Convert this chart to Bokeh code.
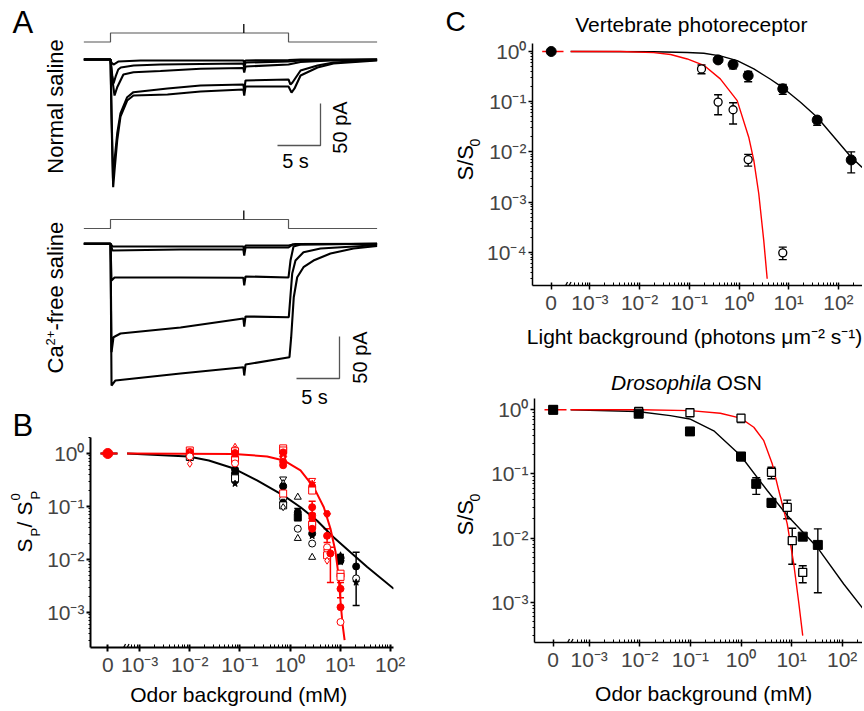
import numpy as np
from bokeh.plotting import figure
from bokeh.models import ColumnDataSource, Label, FixedTicker, Whisker, TeeHead, Range1d, Arrow
from bokeh.layouts import row, column
from bokeh.embed import file_html
from bokeh.resources import INLINE

FONT = "Liberation Sans"
RED = "#ff0000"

# ---------------- Panel A data (time in s, current in pA) ----------------
stim_t = [-3.1, 0.0, 0.0, 20.7, 20.7, 31.0]
stim_level = [0, 0, 1, 1, 0, 0]
mark_t = 15.5

ns_a_t = [-3.1, 0.0, 0.1, 0.35, 0.9, 3.5, 15.45, 15.55, 15.7, 20.7, 22.1, 31.0]
ns_a_i = [0, 0, -3.6, -6.0, -2.4, -1.2, -1.2, -3.6, -1.2, -0.6, 0, 0]
ns_b_t = [-3.1, 0.0, 0.2, 0.35, 0.6, 0.9, 1.2, 2.7, 5.8, 10.5, 15.45, 15.55, 15.7, 20.7, 22.1, 31.0]
ns_b_i = [0, 0, -19.0, -28.6, -20.2, -11.9, -9.5, -7.1, -6.0, -5.4, -4.8, -9.5, -3.6, -2.4, -1.2, 0]
ns_c_t = [-3.1, 0.0, 0.23, 0.47, 0.78, 1.16, 1.5, 2.67, 5.81, 10.47, 15.45, 15.55, 15.7, 20.7, 22.1, 25.6, 31.0]
ns_c_i = [0, 0, -25.0, -42.9, -33.0, -25.0, -17.9, -15.1, -13.7, -11.1, -10.1, -15.5, -8.3, -6.0, -3.0, -1.2, 0]
ns_d_t = [-3.1, 0.0, 0.12, 0.29, 0.47, 0.78, 1.16, 1.94, 2.67, 6.63, 10.47, 15.45, 15.55, 15.7, 20.7, 20.93, 21.16, 22.1, 24.07, 25.93, 31.0]
ns_d_i = [0, 0, -60.7, -141.7, -120.2, -88.1, -64.3, -44.9, -38.9, -34.5, -31.0, -29.8, -36.9, -25.0, -23.8, -29.8, -27.4, -13.1, -7.1, -3.6, -0.6]
ns_e_t = [-3.1, 0.0, 0.12, 0.31, 0.47, 0.78, 1.16, 1.94, 2.67, 6.63, 10.47, 15.45, 15.55, 15.7, 20.7, 21.05, 21.4, 22.1, 24.07, 25.93, 31.0]
ns_e_i = [0, 0, -72.6, -152.0, -132.1, -96.4, -67.9, -48.8, -42.9, -41.7, -38.1, -35.7, -42.9, -32.1, -32.1, -39.3, -34.5, -19.0, -9.5, -4.8, -1.2]

cf_a_t = [-3.1, 0.0, 0.23, 15.45, 15.55, 15.7, 20.7, 21.5, 31.0]
cf_a_i = [0, 0, -3.2, -3.2, -8.0, -2.0, -2.0, -0.2, 0]
cf_b_t = [-3.1, 0.0, 0.23, 8.1, 15.45, 15.55, 15.7, 20.7, 21.2, 31.0]
cf_b_i = [0, 0, -8.0, -6.8, -6.8, -13.9, -4.4, -4.4, -0.8, 0]
cf_c_t = [-3.1, 0.0, 0.12, 0.47, 8.1, 15.45, 15.55, 15.7, 20.7, 20.93, 21.28, 22.1, 31.0]
cf_c_i = [0, 0, -43.7, -40.1, -40.1, -40.5, -49.6, -38.9, -40.1, -19.9, -3.2, -0.8, 0]
cf_d_t = [-3.1, 0.0, 0.12, 0.35, 1.16, 8.14, 15.45, 15.55, 15.7, 20.73, 21.13, 21.51, 22.44, 24.42, 30.23, 31.0]
cf_d_i = [0, 0, -129.0, -111.2, -106.8, -99.6, -88.9, -98.5, -86.5, -87.4, -35.4, -19.9, -10.0, -5.6, -2.0, -1.4]
cf_e_t = [-3.1, 0.0, 0.12, 0.58, 8.14, 15.45, 15.55, 15.7, 20.81, 21.01, 21.31, 21.71, 22.44, 23.6, 25.58, 28.26, 31.0]
cf_e_i = [0, 0, -168.7, -162.7, -154.4, -146.9, -156.8, -143.7, -135.0, -111.2, -63.6, -39.8, -27.9, -19.9, -11.5, -5.6, -2.6]

scale_s = 5.0
scale_pa = 50.0

# ---------------- Panel B data (odor mM, S_P/S_P0) ----------------
b_black_conc = [0, 0.01, 0.01, 0.08, 0.08, 0.08, 0.08, 0.08, 0.08,
                0.73, 0.73, 0.73, 0.73, 0.73, 0.73, 0.73, 0.73,
                1.43, 1.43, 1.43, 1.43, 1.43,
                2.77, 2.77, 2.77, 2.77, 2.77, 2.77,
                10.2, 10.2, 10.2, 10.2, 10.2, 20.9, 20.9, 20.9]
b_black_resp = [1.0, 0.92, 0.86, 0.50, 0.46, 0.42, 0.39, 0.34, 0.27,
                0.33, 0.27, 0.24, 0.22, 0.14, 0.12, 0.105, 0.097,
                0.15, 0.078, 0.063, 0.038, 0.025,
                0.045, 0.038, 0.031, 0.028, 0.020, 0.011,
                0.012, 0.011, 0.0105, 0.0095, 0.009, 0.0074, 0.0044, 0.0037]
b_black_marker = ["circle", "circle", "square", "circle", "triangle", "circle", "hex", "square", "star",
                  "inverted_triangle", "triangle", "circle", "star", "circle", "hex", "square", "diamond",
                  "triangle", "circle", "square", "circle", "triangle",
                  "circle", "star", "circle", "star", "circle", "triangle",
                  "star", "circle", "hex", "circle", "star", "circle", "circle", "star"]
b_black_open = [0, 0, 1, 0, 0, 0, 0, 1, 0,
                1, 1, 0, 0, 1, 0, 1, 1,
                1, 0, 0, 1, 1,
                0, 0, 0, 0, 1, 1,
                0, 0, 0, 0, 0, 0, 1, 0]
b_black_err_conc = [0.08, 1.43, 20.9]
b_black_err_lo = [0.30, 0.054, 0.00135]
b_black_err_hi = [0.50, 0.092, 0.0137]

b_red_conc = [0, 0.01, 0.01, 0.01, 0.01, 0.01, 0.01,
              0.08, 0.08, 0.08, 0.08, 0.08, 0.08, 0.08, 0.08, 0.08,
              0.73, 0.73, 0.73, 0.73, 0.73, 0.73, 0.73, 0.73, 0.73,
              2.77, 2.77, 2.77, 2.77, 2.77, 2.77, 2.77, 2.77, 2.77, 2.77,
              5.5, 5.5, 5.5, 5.5, 5.5, 5.5, 6.4,
              10.2, 10.2, 10.2, 10.2, 10.2]
b_red_resp = [1.0, 1.14, 1.07, 1.0, 0.95, 0.88, 0.64,
              1.31, 1.19, 1.10, 1.02, 0.95, 0.88, 0.80, 0.74, 0.65,
              1.25, 1.14, 1.05, 0.95, 0.88, 0.80, 0.70, 0.60, 0.176,
              0.31, 0.27, 0.24, 0.20, 0.097, 0.068, 0.060, 0.050, 0.045, 0.038,
              0.073, 0.028, 0.017, 0.014, 0.012, 0.0095, 0.013,
              0.0054, 0.0047, 0.0028, 0.00126, 0.00066]
b_red_marker = ["circle", "square", "circle", "triangle", "hex", "circle", "diamond",
                "triangle", "diamond", "square", "circle", "star", "hex", "circle", "square", "circle",
                "square", "square", "circle", "star", "hex", "diamond", "circle", "circle", "square",
                "inverted_triangle", "star", "circle", "square", "circle", "circle", "hex", "circle", "square", "circle",
                "hex", "circle", "circle", "inverted_triangle", "square", "diamond", "circle",
                "square", "square", "circle", "circle", "circle"]
b_red_open = [0, 1, 0, 1, 0, 1, 1,
              1, 1, 1, 0, 0, 0, 0, 1, 1,
              1, 1, 0, 0, 0, 1, 0, 0, 1,
              1, 0, 0, 1, 0, 0, 0, 0, 1, 0,
              0, 0, 1, 1, 1, 1, 0,
              1, 1, 0, 0, 1]
b_red_err_conc = [2.77, 5.5, 6.4, 10.2]
b_red_err_lo = [0.074, 0.021, 0.0037, 0.0019]
b_red_err_hi = [0.126, 0.038, 0.017, 0.0037]

b_fit_black_c = [5.6e-4, 0.0094, 0.024, 0.076, 0.22, 0.75, 1.62, 3.49, 7.49, 16.1, 34.8, 118]
b_fit_black_v = [1.0, 0.88, 0.74, 0.52, 0.31, 0.16, 0.097, 0.054, 0.026, 0.0137, 0.0072, 0.0028]
b_fit_red_c = [5.6e-4, 0.076, 0.35, 0.75, 1.62, 2.99, 4.73, 6.43, 8.1, 9.3, 10.4, 11.2, 12.3]
b_fit_red_v = [1.0, 0.98, 0.88, 0.74, 0.48, 0.23, 0.097, 0.038, 0.014, 0.005, 0.0013, 0.0006, 0.0003]
b_fit_zero = 1.0

# ---------------- Panel C (top): vertebrate photoreceptor ----------------
ct_fill_light = [0, 0.38, 0.76, 1.53, 7.6, 37.4, 181]
ct_fill_resp = [1.0, 0.68, 0.55, 0.33, 0.18, 0.043, 0.0069]
ct_fill_lo = [1.0, 0.63, 0.45, 0.25, 0.14, 0.034, 0.0038]
ct_fill_hi = [1.0, 0.73, 0.64, 0.40, 0.22, 0.050, 0.010]
ct_open_light = [0.176, 0.38, 0.76, 1.53, 7.6]
ct_open_resp = [0.45, 0.098, 0.069, 0.007, 9.7e-5]
ct_open_lo = [0.36, 0.055, 0.036, 0.0052, 7.1e-5]
ct_open_hi = [0.54, 0.137, 0.095, 0.0089, 1.26e-4]
ct_fit_black_c = [4.1e-4, 0.0193, 0.091, 0.196, 0.42, 0.92, 1.99, 4.3, 7.6, 17.3, 37.4, 181, 301]
ct_fit_black_v = [1.0, 0.99, 0.955, 0.92, 0.82, 0.66, 0.45, 0.28, 0.19, 0.097, 0.049, 0.0078, 0.0049]
ct_fit_red_c = [4.1e-4, 0.0041, 0.0193, 0.042, 0.091, 0.196, 0.42, 0.92, 1.57, 1.99, 2.5, 3.15, 3.69]
ct_fit_red_v = [1.0, 1.0, 0.95, 0.87, 0.71, 0.53, 0.285, 0.105, 0.0196, 0.0067, 0.00146, 1.7e-4, 2.95e-5]

# ---------------- Panel C (bottom): Drosophila OSN ----------------
cb_fill_conc = [0, 0.0095, 0.098, 1.0, 2.0, 4.0, 16.6, 33.0]
cb_fill_resp = [1.0, 0.87, 0.46, 0.187, 0.070, 0.0354, 0.0105, 0.0078]
cb_fill_lo = [1.0, 0.84, 0.44, 0.16, 0.048, 0.030, 0.0098, 0.0014]
cb_fill_hi = [1.0, 0.90, 0.48, 0.20, 0.087, 0.040, 0.0112, 0.0139]
cb_open_conc = [0, 0.0095, 0.098, 1.0, 4.0, 8.2, 10.3, 16.6]
cb_open_resp = [1.0, 0.94, 0.90, 0.74, 0.106, 0.030, 0.0091, 0.0029]
cb_open_lo = [1.0, 0.92, 0.86, 0.63, 0.084, 0.020, 0.0039, 0.0020]
cb_open_hi = [1.0, 0.96, 0.94, 0.84, 0.127, 0.039, 0.0142, 0.0037]
cb_fit_black_c = [4.3e-4, 0.0089, 0.040, 0.097, 0.29, 0.98, 3.3, 8.2, 32, 108, 275]
cb_fit_black_v = [1.0, 0.94, 0.81, 0.72, 0.47, 0.194, 0.055, 0.0225, 0.0072, 0.0019, 7.4e-4]
cb_fit_red_c = [4.3e-4, 0.01, 0.1, 0.39, 0.98, 1.79, 2.82, 4.14, 5.58, 8.2, 11.0, 13.9, 16.6]
cb_fit_red_v = [1.0, 1.0, 0.97, 0.885, 0.74, 0.535, 0.33, 0.144, 0.055, 0.0166, 0.004, 9.6e-4, 3.0e-4]

decade_labels = {-4: "10\u207b\u2074", -3: "10\u207b\u00b3", -2: "10\u207b\u00b2", -1: "10\u207b\u00b9",
                 0: "10\u2070", 1: "10\u00b9", 2: "10\u00b2"}

# ---------------- helpers ----------------
BASE_FIX = 0.37  # measured offset of the rendered alphabetic baseline, in em


def ident(v):
    return v


def lab(p, xpx, ypx, text, size, fx=ident, fy=ident, align="left", rot=False, style="normal"):
    """Place a label by picture-pixel position of its baseline (fx/fy map pixels to data)."""
    if rot:
        xpx = xpx - BASE_FIX * size
    else:
        ypx = ypx - BASE_FIX * size
    p.add_layout(Label(x=fx(xpx), y=fy(ypx), text=text, text_font=FONT, text_font_size=f"{size}px",
                       text_align=align, text_baseline="alphabetic", angle=(np.pi / 2 if rot else 0.0),
                       text_font_style=style, text_color="black"))


def blank_fig(w, h, xr, yr):
    p = figure(width=w, height=h, x_range=Range1d(*xr), y_range=Range1d(*yr),
               output_backend="svg", toolbar_location=None,
               x_axis_location=None, y_axis_location=None, min_border=0)
    p.xgrid.visible = False
    p.ygrid.visible = False
    p.outline_line_color = None
    p.frame_align = False
    return p


def strip(x0, x1, y0, y1):
    # text-only panel whose coordinates are picture pixels (y grows downward)
    return blank_fig(int(x1 - x0), int(y1 - y0), (x0, x1), (y1, y0))


def log_fig(w, h, xr, yr, borders, xdec, ydec, zero_pos, xminor_start, lw):
    l, r, t, b = borders
    p = figure(width=w, height=h, x_axis_type="log", y_axis_type="log",
               x_range=Range1d(*xr), y_range=Range1d(*yr),
               output_backend="svg", toolbar_location=None,
               min_border_left=l, min_border_right=r, min_border_top=t, min_border_bottom=b)
    p.frame_align = False
    p.xgrid.visible = False
    p.ygrid.visible = False
    p.outline_line_color = None
    xt = [zero_pos] + [10.0 ** d for d in xdec]
    xm = [k * 10.0 ** d for d in range(-5, 3) for k in range(2, 10)
          if xminor_start <= k * 10.0 ** d <= xr[1]]
    p.xaxis.ticker = FixedTicker(ticks=xt, minor_ticks=xm)
    ov = {zero_pos: "0"}
    for d in xdec:
        ov[10.0 ** d] = decade_labels[d]
    p.xaxis.major_label_overrides = ov
    yt = [10.0 ** d for d in ydec]
    ym = [k * 10.0 ** d for d in range(-6, 1) for k in range(2, 10)
          if yr[0] <= k * 10.0 ** d <= yr[1]]
    p.yaxis.ticker = FixedTicker(ticks=yt, minor_ticks=ym)
    p.yaxis.major_label_overrides = {10.0 ** d: decade_labels[d] for d in ydec}
    p.axis.major_label_text_font = FONT
    p.axis.major_label_text_font_size = "21px"
    p.axis.axis_line_width = lw
    p.axis.major_tick_line_width = lw
    p.axis.minor_tick_line_width = 1
    p.xaxis.major_tick_out = 4
    p.xaxis.major_tick_in = 3
    p.xaxis.minor_tick_in = 3
    p.xaxis.minor_tick_out = 0
    p.xaxis.major_label_standoff = 1
    p.yaxis.major_tick_out = 4
    p.yaxis.major_tick_in = 0
    p.yaxis.minor_tick_out = 2
    p.yaxis.minor_tick_in = 0
    p.yaxis.major_label_standoff = 2
    return p


def break_marks(p, xfun, yfun, x0, y0):
    for dx in (0.0, 3.5):
        p.add_layout(Arrow(end=None, x_start=xfun(x0 + dx), y_start=yfun(y0 + 3.5),
                           x_end=xfun(x0 + dx + 3.5), y_end=yfun(y0 - 3.5),
                           line_color="black", line_width=1.3))


def whiskers(p, x, lo, hi, color, size, lw):
    src = ColumnDataSource(dict(x=x, lo=lo, hi=hi))
    w = Whisker(source=src, base="x", lower="lo", upper="hi", dimension="height",
                line_color=color, line_width=lw,
                upper_head=TeeHead(size=size, line_color=color, line_width=lw),
                lower_head=TeeHead(size=size, line_color=color, line_width=lw))
    p.add_layout(w)


def zmap(conc, zero_pos):
    return [zero_pos if c == 0 else c for c in conc]


# ---------------- Panel A ----------------
PX_PER_S = 8.6
PX_PER_PA = 0.84
STIM_PX = 9.0


def a_t(px):
    return (px - 110.0) / PX_PER_S


def a1_i(py):
    return (59.0 - py) / PX_PER_PA


def a2_i(py):
    return (243.3 - py) / PX_PER_PA


def draw_traces(p, traces, bar_x, bar_y, ifun):
    for t, i in traces:
        p.line(t, i, line_color="black", line_width=2.1)
    x0 = a_t(bar_x)
    y0 = ifun(bar_y)
    p.line([x0, x0 + scale_s, x0 + scale_s], [y0, y0, y0 + scale_pa], line_color="#555555", line_width=1.3)


pa1 = blank_fig(420, 200, (a_t(0), a_t(420)), (a1_i(200), a1_i(0)))
pa1.extra_y_ranges = {"stim": Range1d((41.5 - 200) / STIM_PX, (41.5 - 0) / STIM_PX)}
pa1.line(stim_t, stim_level, y_range_name="stim", line_color="#555555", line_width=1.2)
pa1.segment(x0=[mark_t], y0=[1], x1=[mark_t], y1=[2], y_range_name="stim", line_color="black", line_width=1.3)
draw_traces(pa1, [(ns_a_t, ns_a_i), (ns_b_t, ns_b_i), (ns_c_t, ns_c_i), (ns_d_t, ns_d_i), (ns_e_t, ns_e_i)],
            277, 145, a1_i)
lab(pa1, 12, 33, "A", 31, a_t, a1_i)
lab(pa1, 63, 106, "Normal saline", 22, a_t, a1_i, align="center", rot=True)
lab(pa1, 295, 168, "5 s", 20, a_t, a1_i, align="center")
lab(pa1, 347, 127, "50 pA", 20, a_t, a1_i, align="center", rot=True)

pa2 = blank_fig(420, 208, (a_t(0), a_t(420)), (a2_i(408), a2_i(200)))
pa2.extra_y_ranges = {"stim": Range1d((228 - 408) / STIM_PX, (228 - 200) / STIM_PX)}
pa2.line(stim_t, stim_level, y_range_name="stim", line_color="#555555", line_width=1.2)
pa2.segment(x0=[mark_t], y0=[1], x1=[mark_t], y1=[2], y_range_name="stim", line_color="black", line_width=1.3)
draw_traces(pa2, [(cf_a_t, cf_a_i), (cf_b_t, cf_b_i), (cf_c_t, cf_c_i), (cf_d_t, cf_d_i), (cf_e_t, cf_e_i)],
            296, 378, a2_i)
lab(pa2, 63, 373, "Ca", 22, a_t, a2_i, rot=True)
lab(pa2, 55, 345, "2+", 13, a_t, a2_i, rot=True)
lab(pa2, 63, 330, "-free saline", 22, a_t, a2_i, rot=True)
lab(pa2, 314, 404, "5 s", 20, a_t, a2_i, align="center")
lab(pa2, 367, 357, "50 pA", 20, a_t, a2_i, align="center", rot=True)


# ---------------- Panel B ----------------
def bx(px):
    return 10 ** ((px - 289.5) / 50.1)


def by(py):
    return 10 ** ((453.0 - py) / 53.0)


ZERO_B = bx(107.3)
pb = log_fig(378, 274, (bx(90), bx(393)), (by(647), by(437)), (48, 27, 29, 35),
             [-3, -2, -1, 0, 1, 2], [-3, -2, -1, 0], ZERO_B, bx(131), 2)
break_marks(pb, bx, by, 121.5, 647)
pb.line([bx(100), bx(117)], [b_fit_zero, b_fit_zero], line_color="black", line_width=2)
pb.line(b_fit_black_c, b_fit_black_v, line_color="black", line_width=2)
whiskers(pb, b_black_err_conc, b_black_err_lo, b_black_err_hi, "black", 7, 1.5)
src_bk = ColumnDataSource(dict(x=zmap(b_black_conc, ZERO_B), y=b_black_resp, m=b_black_marker,
                               f=["white" if o else "black" for o in b_black_open]))
pb.scatter(x="x", y="y", marker="m", fill_color="f", line_color="black", size=7, line_width=1, source=src_bk)
pb.line([bx(100), bx(117)], [b_fit_zero, b_fit_zero], line_color=RED, line_width=2)
pb.line(b_fit_red_c, b_fit_red_v, line_color=RED, line_width=2)
whiskers(pb, b_red_err_conc, b_red_err_lo, b_red_err_hi, RED, 7, 1.5)
src_rd = ColumnDataSource(dict(x=zmap(b_red_conc, ZERO_B), y=b_red_resp, m=b_red_marker,
                               f=["white" if o else RED for o in b_red_open],
                               s=[10 if c == 0 else 7 for c in b_red_conc]))
pb.scatter(x="x", y="y", marker="m", fill_color="f", line_color=RED, size="s", line_width=1, source=src_rd)

b_left = strip(0, 42, 408, 682)
lab(b_left, 12, 436.7, "B", 31)
lab(b_left, 31.7, 552, "S", 21, rot=True)
lab(b_left, 40, 536, "P", 13, rot=True)
lab(b_left, 31.7, 527, "/", 21, rot=True)
lab(b_left, 31.7, 515, "S", 21, rot=True)
lab(b_left, 40, 499, "P", 13, rot=True)
lab(b_left, 20, 500, "0", 13, rot=True)
b_bot = strip(0, 420, 682, 710)
lab(b_bot, 238.3, 702, "Odor background (mM)", 21, align="center")


# ---------------- Panel C top ----------------
def ctx(px):
    return 10 ** ((px - 738.5) / 49.7)


def cty(py):
    return 10 ** ((51.0 - py) / 50.17)


ZERO_CT = ctx(550.7)
pct = log_fig(378, 280, (ctx(532), ctx(862)), (cty(285), cty(43)), (48, 0, 5, 33),
              [-3, -2, -1, 0, 1, 2], [-4, -3, -2, -1, 0], ZERO_CT, ctx(572), 1.5)
break_marks(pct, ctx, cty, 563.5, 285)
pct.line([ctx(541.7), ctx(563)], [1.0, 1.0], line_color=RED, line_width=1.4)
pct.line(ct_fit_black_c, ct_fit_black_v, line_color="black", line_width=1.4)
pct.line(ct_fit_red_c, ct_fit_red_v, line_color=RED, line_width=1.4)
whiskers(pct, ct_fill_light, ct_fill_lo, ct_fill_hi, "black", 8, 1.4)
whiskers(pct, ct_open_light, ct_open_lo, ct_open_hi, "black", 8, 1.4)
pct.scatter(zmap(ct_fill_light, ZERO_CT), ct_fill_resp, marker="circle", size=10,
            fill_color="black", line_color="black")
pct.scatter(ct_open_light, ct_open_resp, marker="circle", size=8,
            fill_color="white", line_color="black", line_width=1.3)

ct_top = strip(420, 862, 0, 38)
lab(ct_top, 445, 31.5, "C", 28)
lab(ct_top, 690.8, 31.7, "Vertebrate photoreceptor", 21, align="center")
ct_left = strip(420, 484, 38, 318)
lab(ct_left, 473, 180, "S/S", 22, rot=True)
lab(ct_left, 480, 146, "0", 14, rot=True)
ct_bot = strip(420, 862, 318, 360)
lab(ct_bot, 694, 344, "Light background (photons \u03bcm\u207b\u00b2 s\u207b\u00b9)", 21, align="center")


# ---------------- Panel C bottom ----------------
def cbx(px):
    return 10 ** ((px - 740.5) / 50.6)


def cby(py):
    return 10 ** ((409.3 - py) / 64.1)


ZERO_CB = cbx(552.7)
pcb = log_fig(376, 284, (cbx(534), cbx(862)), (cby(642), cby(398)), (48, 0, 2, 38),
              [-3, -2, -1, 0, 1, 2], [-3, -2, -1, 0], ZERO_CB, cbx(574), 1.5)
break_marks(pcb, cbx, cby, 565.5, 642)
pcb.line([cbx(544), cbx(566)], [1.0, 1.0], line_color=RED, line_width=1.4)
pcb.line(cb_fit_black_c, cb_fit_black_v, line_color="black", line_width=1.4)
pcb.line(cb_fit_red_c, cb_fit_red_v, line_color=RED, line_width=1.4)
whiskers(pcb, zmap(cb_fill_conc, ZERO_CB), cb_fill_lo, cb_fill_hi, "black", 8, 1.4)
whiskers(pcb, zmap(cb_open_conc, ZERO_CB), cb_open_lo, cb_open_hi, "black", 8, 1.4)
pcb.scatter(zmap(cb_open_conc, ZERO_CB), cb_open_resp, marker="square", size=8,
            fill_color="white", line_color="black", line_width=1.3)
pcb.scatter(zmap(cb_fill_conc, ZERO_CB), cb_fill_resp, marker="square", size=9,
            fill_color="black", line_color="black")

cb_top = strip(420, 862, 360, 396)
lab(cb_top, 711, 390, "Drosophila", 21, align="right", style="italic")
lab(cb_top, 716, 390, "OSN", 21)
cb_left = strip(420, 486, 396, 680)
lab(cb_left, 473, 535, "S/S", 22, rot=True)
lab(cb_left, 480, 501, "0", 14, rot=True)
cb_bot = strip(420, 862, 680, 710)
lab(cb_bot, 706, 701, "Odor background  (mM)", 21, align="center")

left_col = column(pa1, pa2, row(b_left, pb), b_bot)
right_col = column(ct_top, row(ct_left, pct), ct_bot, cb_top, row(cb_left, pcb), cb_bot)
layout = row(left_col, right_col)
open("out.html", "w").write(file_html(layout, INLINE))
